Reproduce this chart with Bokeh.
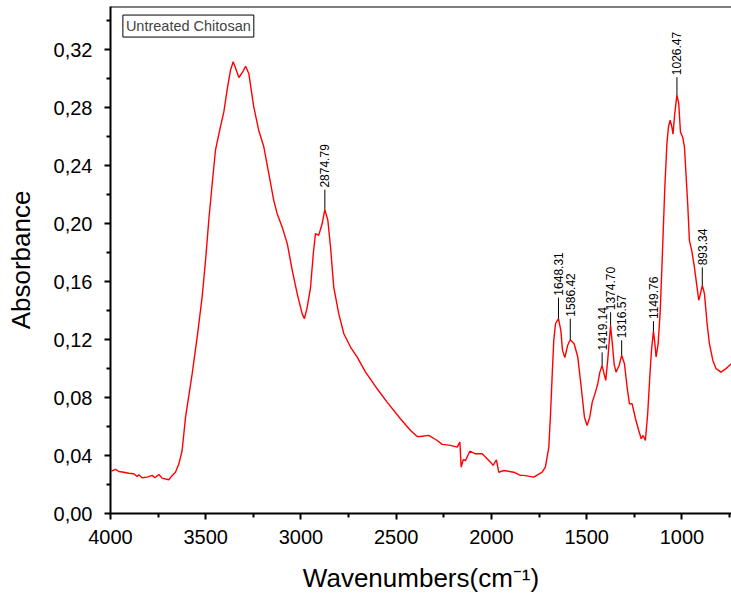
from bokeh.plotting import figure
from bokeh.models import Range1d, FixedTicker, Label, Span, ColumnDataSource
from bokeh.core.properties import value
from bokeh.embed import file_html
from bokeh.resources import INLINE

# ---- spectrum ----
wavenumber = [
    3995, 3974, 3956, 3930, 3904, 3878, 3860, 3851, 3834, 3807, 3781, 3767, 3746, 3729,
    3694, 3676, 3659, 3641, 3624, 3606, 3571, 3545, 3519, 3501, 3484, 3466, 3449, 3423,
    3405, 3388, 3370, 3356, 3345, 3326, 3305, 3291, 3274, 3248, 3222, 3195, 3169, 3143,
    3125, 3099, 3072, 3046, 3020, 2994, 2982, 2968, 2950, 2935, 2924, 2907, 2889, 2874.79,
    2859, 2845, 2828, 2802, 2775, 2740, 2705, 2661, 2600, 2548, 2478, 2425, 2390, 2373,
    2329, 2285, 2259, 2215, 2180, 2166, 2159, 2148, 2136, 2114, 2084, 2049, 2023, 2005,
    1991, 1974, 1962, 1935, 1883, 1848, 1830, 1778, 1734, 1717, 1699, 1690, 1681, 1673,
    1664, 1648.31, 1636, 1627, 1615, 1600, 1586.42, 1566, 1547, 1529, 1512, 1498, 1484,
    1471, 1454, 1442, 1431, 1419.14, 1411, 1400, 1390, 1374.70, 1364, 1356, 1346, 1330,
    1316.57, 1302, 1288, 1276, 1262, 1244, 1227, 1214, 1204, 1192, 1180, 1169, 1160,
    1149.76, 1142, 1136, 1125, 1114, 1102, 1090, 1079, 1071, 1062, 1053, 1047, 1038,
    1026.47, 1017, 1008, 996, 987, 979, 970, 961, 949, 935, 921, 912, 903, 893.34, 882,
    868, 856, 838, 821, 795, 769, 740,
]
absorbance = [
    0.0292, 0.0304, 0.0290, 0.0285, 0.0278, 0.0274, 0.0256, 0.0267, 0.0247, 0.0251, 0.0263, 0.0247, 0.0269, 0.0244,
    0.0233, 0.0263, 0.0285, 0.0343, 0.0435, 0.0665, 0.0967, 0.1218, 0.1494, 0.1748, 0.2024, 0.2278, 0.2508, 0.2669,
    0.2772, 0.2922, 0.3060, 0.3118, 0.3080, 0.3010, 0.3050, 0.3088, 0.3038, 0.2807, 0.2646, 0.2530, 0.2347, 0.2162,
    0.2070, 0.1978, 0.1863, 0.1679, 0.1518, 0.1380, 0.1345, 0.1420, 0.1560, 0.1800, 0.1932, 0.1920, 0.2000, 0.2098,
    0.2024, 0.1840, 0.1563, 0.1380, 0.1241, 0.1149, 0.1080, 0.0976, 0.0861, 0.0769, 0.0654, 0.0573, 0.0532, 0.0532,
    0.0539, 0.0504, 0.0477, 0.0470, 0.0458, 0.0493, 0.0320, 0.0371, 0.0366, 0.0430, 0.0412, 0.0412, 0.0378, 0.0354,
    0.0332, 0.0371, 0.0285, 0.0297, 0.0285, 0.0263, 0.0263, 0.0251, 0.0285, 0.0320, 0.0458, 0.0689, 0.0965, 0.1195,
    0.1310, 0.1345, 0.1264, 0.1126, 0.1076, 0.1161, 0.1200, 0.1172, 0.1080, 0.0873, 0.0665, 0.0608, 0.0665,
    0.0769, 0.0838, 0.0896, 0.0976, 0.1022, 0.0976, 0.0919, 0.1057, 0.1299, 0.1149, 0.1030, 0.0976, 0.1022,
    0.1092, 0.1034, 0.0873, 0.0758, 0.0758, 0.0654, 0.0573, 0.0516, 0.0539, 0.0504, 0.0689, 0.0942, 0.1126,
    0.1259, 0.1172, 0.1080, 0.1172, 0.1402, 0.1817, 0.2254, 0.2554, 0.2669, 0.2715, 0.2669, 0.2618, 0.2761,
    0.2888, 0.2831, 0.2634, 0.2596, 0.2531, 0.2347, 0.2140, 0.1886, 0.1817, 0.1702, 0.1563, 0.1472, 0.1518, 0.1575, 0.1518,
    0.1310, 0.1172, 0.1057, 0.1000, 0.0976, 0.1000, 0.1034,
]

# ---- labelled peaks ----
peak_wn = [2874.79, 1648.31, 1586.42, 1419.14, 1374.70, 1316.57, 1149.76, 1026.47, 893.34]
peak_abs = [0.2098, 0.1345, 0.1200, 0.1022, 0.1299, 0.1092, 0.1259, 0.2888, 0.1575]
peak_labels = ["2874.79", "1648.31", "1586.42", "1419.14", "1374.70", "1316.57", "1149.76", "1026.47", "893.34"]

# ---- axes ----
x_ticks = [4000, 3500, 3000, 2500, 2000, 1500, 1000]
x_minor = [3750, 3250, 2750, 2250, 1750, 1250, 750]
y_ticks = [0.00, 0.04, 0.08, 0.12, 0.16, 0.20, 0.24, 0.28, 0.32]
y_tick_labels = ["0,00", "0,04", "0,08", "0,12", "0,16", "0,20", "0,24", "0,28", "0,32"]
y_minor = [0.02, 0.06, 0.10, 0.14, 0.18, 0.22, 0.26, 0.30, 0.34]
x_title = "Wavenumbers(cm\u207b\u00b9)"
y_title = "Absorbance"
series_name = "Untreated Chitosan"

# style (not data)
stem_len = [0.0138, 0.0145, 0.0145, 0.0090, 0.0090, 0.0104, 0.0069, 0.0124, 0.0124]
FONT = "Liberation Sans"
Y_TOP = 0.350

p = figure(width=731, height=603, output_backend="svg", toolbar_location=None,
           x_range=Range1d(4000, 740), y_range=Range1d(0, Y_TOP),
           min_border_left=110, min_border_right=0, min_border_top=6, min_border_bottom=90)
p.outline_line_color = None
p.grid.visible = False
p.background_fill_color = "white"

p.line(wavenumber, absorbance, line_color="#ff0000", line_width=1.4)

# peak stems and labels
stem_top = [a + s for a, s in zip(peak_abs, stem_len)]
src = ColumnDataSource(dict(x=peak_wn, y0=peak_abs, y1=stem_top,
                            yt=[t + 0.0014 for t in stem_top], txt=peak_labels))
p.segment(x0="x", y0="y0", x1="x", y1="y1", source=src, line_color="black", line_width=1)
p.text(x="x", y="yt", text="txt", source=src, angle=1.5708, text_align="left",
       text_baseline="middle", text_font=value(FONT), text_font_size="12px", text_color="black")

# legend-like box
p.add_layout(Label(x=3935, y=0.3365, text=series_name, text_font=FONT, text_font_size="14.5px",
                   text_baseline="middle", text_align="left", border_line_color="black",
                   border_line_width=1, background_fill_color="white", padding=3))

# top border
p.add_layout(Span(location=Y_TOP, dimension="width", line_color="black", line_width=2))

for ax in (p.xaxis[0], p.yaxis[0]):
    ax.axis_line_width = 2
    ax.major_tick_line_width = 2
    ax.minor_tick_line_width = 2
    ax.major_tick_in = 0
    ax.major_tick_out = 6
    ax.minor_tick_in = 0
    ax.minor_tick_out = 4
    ax.major_label_text_font = FONT
    ax.major_label_text_font_size = "20px"
    ax.major_label_text_color = "black"
    ax.axis_label_text_font = FONT
    ax.axis_label_text_font_size = "26px"
    ax.axis_label_text_font_style = "normal"
    ax.axis_label_text_color = "black"

p.xaxis.ticker = FixedTicker(ticks=x_ticks, minor_ticks=x_minor)
p.yaxis.ticker = FixedTicker(ticks=y_ticks, minor_ticks=y_minor)
p.yaxis.major_label_overrides = {t: l for t, l in zip(y_ticks, y_tick_labels)}
p.xaxis.major_label_standoff = 10
p.yaxis.major_label_standoff = 12
p.xaxis.axis_label = x_title
p.yaxis.axis_label = y_title
p.xaxis.axis_label_standoff = 16
p.yaxis.axis_label_standoff = 15

open("out.html", "w").write(file_html(p, INLINE))
